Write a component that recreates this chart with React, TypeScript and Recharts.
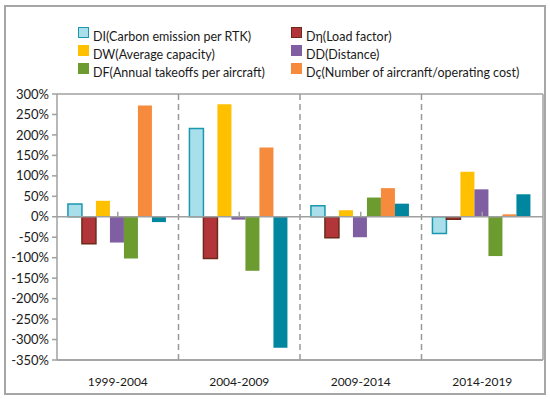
import { BarChart, Bar, XAxis, YAxis, CartesianGrid, ReferenceLine } from 'recharts';

// periods on the x axis
const periods = ['1999-2004', '2004-2009', '2009-2014', '2014-2019'];

// decomposition effects, % change per period
const diValues = [31, 216, 27, -41];
const loadFactorValues = [-66, -102, -51, -6];
const capacityValues = [39, 275, 16, 110];
const distanceValues = [-63, -7, -50, 67];
const takeoffValues = [-102, -132, 47, -96];
const fleetCostValues = [272, 169, 70, 6];
const totalValues = [-13, -320, 32, 55];

const yTicks = [300, 250, 200, 150, 100, 50, 0, -50, -100, -150, -200, -250, -300, -350];

const series = [
  { key: 'di', name: 'DI(Carbon emission per RTK)', values: diValues, fill: '#a9dfea', stroke: '#1b97ae', legend: true },
  { key: 'deta', name: 'D\u03b7(Load factor)', values: loadFactorValues, fill: '#b2353a', stroke: '#6b2b16', legend: true },
  { key: 'dw', name: 'DW(Average capacity)', values: capacityValues, fill: '#ffc000', stroke: 'none', legend: true },
  { key: 'dd', name: 'DD(Distance)', values: distanceValues, fill: '#7f5fa1', stroke: 'none', legend: true },
  { key: 'df', name: 'DF(Annual takeoffs per aircraft)', values: takeoffValues, fill: '#6c9b30', stroke: 'none', legend: true },
  { key: 'dc', name: 'D\u00e7(Number of aircranft/operating cost)', values: fleetCostValues, fill: '#f68b3d', stroke: 'none', legend: true },
  { key: 'total', name: 'DC', values: totalValues, fill: '#00869e', stroke: 'none', legend: false },
];

const data = periods.map((p, i) => {
  const row: Record<string, string | number> = { period: p };
  series.forEach((s) => {
    row[s.key] = s.values[i];
  });
  return row;
});

const FONT = 'Lato, "Open Sans", sans-serif';
const AXIS = '#a0a0a0';

function ChartLegend() {
  const items = series.filter((s) => s.legend);
  return (
    <div style={{ position: 'absolute', left: 78, top: 28, display: 'grid', gridTemplateColumns: '213px 245px', rowGap: 2 }}>
      {items.map((s) => (
        <div key={s.key} style={{ display: 'flex', alignItems: 'flex-start', height: 16 }}>
          <div
            style={{
              width: s.stroke === 'none' ? 11 : 9,
              height: s.stroke === 'none' ? 11 : 9,
              background: s.fill,
              border: s.stroke === 'none' ? 'none' : `1px solid ${s.stroke}`,
              marginTop: -1,
              flexShrink: 0,
            }}
          />
          <span style={{ marginLeft: 4, marginTop: 2, fontSize: 12.5, fontFamily: FONT, color: '#1a1a1a', lineHeight: '14px', whiteSpace: 'nowrap' }}>
            {s.name}
          </span>
        </div>
      ))}
    </div>
  );
}

// small category tick that sits on the zero line, pointing up
function PeriodTick(props: any) {
  const { x, y, payload, zeroY } = props;
  return (
    <g>
      <line x1={x} x2={x} y1={zeroY} y2={zeroY - 5} stroke={AXIS} strokeWidth={1.5} />
      <text x={x} y={y} dy="0.71em" textAnchor="middle" fill="#1a1a1a" fontSize={12} fontFamily={FONT}>
        {payload.value}
      </text>
    </g>
  );
}

const CHART_H = 399;
const MARGIN = { top: 94, right: 7, bottom: 9, left: 7 };
const X_AXIS_H = 30;
const PLOT_H = CHART_H - MARGIN.top - MARGIN.bottom - X_AXIS_H;
const ZERO_Y = MARGIN.top + (PLOT_H * 300) / 650;

export default function App() {
  return (
    <div style={{ position: 'relative', width: 550, height: 399, background: '#fff' }}>
      <style>{'body{margin:0}'}</style>
      <div
        style={{
          position: 'absolute',
          left: 4,
          top: 5,
          width: 538,
          height: 386,
          border: '2px solid #a6a6a6',
        }}
      />
      <BarChart
        width={550}
        height={CHART_H}
        data={data}
        margin={MARGIN}
        barGap={0}
        barCategoryGap="9%"
      >
        {/* plot frame */}
        <CartesianGrid
          stroke={AXIS}
          strokeWidth={1.5}
          horizontalCoordinatesGenerator={({ offset }: any) => [offset.top, offset.top + offset.height]}
          verticalCoordinatesGenerator={({ offset }: any) => [offset.left + offset.width]}
        />
        {/* dashed period dividers */}
        <CartesianGrid
          horizontal={false}
          stroke="#999"
          strokeWidth={1.5}
          strokeDasharray="6 4"
          verticalCoordinatesGenerator={({ offset }: any) =>
            periods.slice(1).map((_, i) => offset.left + ((i + 1) * offset.width) / periods.length)
          }
        />
        <XAxis
          dataKey="period"
          stroke={AXIS}
          strokeWidth={1.5}
          tickLine={false}
          tickSize={0}
          tickMargin={17}
          height={X_AXIS_H}
          tick={<PeriodTick zeroY={ZERO_Y} />}
        />
        <YAxis
          domain={[-350, 300]}
          ticks={yTicks}
          interval={0}
          width={50}
          stroke={AXIS}
          strokeWidth={1.5}
          tickSize={5}
          tickMargin={3}
          tickFormatter={(v: number) => `${v}%`}
          tick={{ fill: '#1a1a1a', fontSize: 13, fontFamily: FONT }}
        />
        <ReferenceLine y={0} stroke={AXIS} strokeWidth={1.5} />
        {series.map((s) => (
          <Bar
            key={s.key}
            dataKey={s.key}
            name={s.name}
            fill={s.fill}
            stroke={s.stroke}
            strokeWidth={s.stroke === 'none' ? 0 : 1.5}
            isAnimationActive={false}
          />
        ))}
      </BarChart>
      <ChartLegend />
    </div>
  );
}
